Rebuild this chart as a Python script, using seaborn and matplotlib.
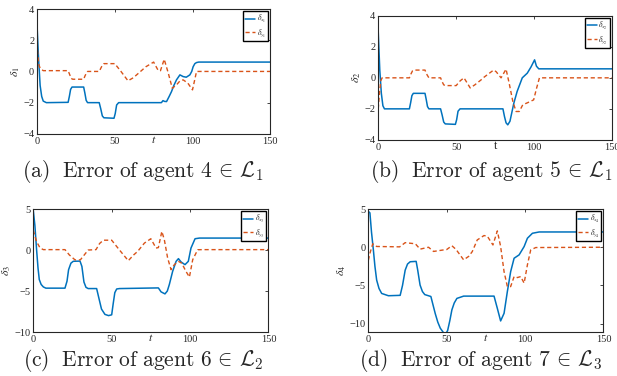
import matplotlib
matplotlib.use('Agg')
import matplotlib.pyplot as plt
import seaborn as sns

# Set Seaborn style, then the serif fonts of the paper figure
sns.set_theme(style='white')
plt.rcParams['font.family'] = ['Liberation Serif', 'DejaVu Serif']
plt.rcParams['mathtext.fontset'] = 'stix'

BLUE = '#0072BD'
ORANGE = '#D95319'

# ---- data ----
# (a) agent 4
t_a_x = [0, 1, 2, 3, 4, 6, 20, 20.8, 21.6, 22.5, 30, 30.8, 31.6, 32.5, 40, 41, 42, 43, 49.5, 50.3, 51.2,
         52.5, 80, 81, 82, 83.3, 85, 86.5, 88, 89.7, 91.9, 94, 96, 98.3, 99.5, 100.4, 101.5, 102.6, 104, 150]
d_a_x = [3.0, 0.8, -0.9, -1.6, -1.9, -2.0, -1.98, -1.6, -1.15, -1.0, -1.0, -1.4, -1.85, -2.0, -2.0, -2.4, -2.85,
         -2.97, -3.0, -2.7, -2.15, -2.0, -2.0, -1.87, -1.92, -1.93, -1.6, -1.29, -0.9, -0.54, -0.22, -0.33, -0.37,
         -0.22, 0.0, 0.3, 0.5, 0.57, 0.6, 0.6]
t_a_y = [0, 1, 2, 4, 20, 21, 22, 23, 30, 31, 32.5, 40, 41.5, 43, 50, 54, 58.5, 62, 66, 70, 75, 78, 79.4, 81.8,
         84.4, 87, 89.7, 92, 94, 97, 100, 102.6, 150]
d_a_y = [1.8, 0.5, 0.2, 0.05, 0.05, -0.2, -0.45, -0.5, -0.5, -0.25, 0.0, 0.0, 0.3, 0.5, 0.5, 0.0, -0.6, -0.4,
         -0.05, 0.3, 0.6, 0.05, 0.05, 0.78, -0.1, -1.08, -0.86, -0.6, -0.54, -0.75, -1.18, 0.0, 0.0]

# (b) agent 5
t_b_x = [0, 1, 2, 3, 4, 20, 20.8, 21.6, 22.5, 30, 30.8, 31.6, 32.5, 40, 41, 42, 43, 49.5, 50.3, 51.2, 52.5,
         80, 81, 82, 83.1, 84.5, 87, 89.1, 92.4, 95.6, 98, 100.3, 101.5, 103, 150]
d_b_x = [3.0, 0.5, -1.0, -1.8, -2.0, -2.0, -1.6, -1.15, -1.0, -1.0, -1.4, -1.85, -2.0, -2.0, -2.4, -2.85, -2.97,
         -3.0, -2.7, -2.15, -2.0, -2.0, -2.5, -2.9, -3.03, -2.8, -1.63, -0.88, 0.0, 0.3, 0.7, 1.16, 0.75, 0.58, 0.58]
t_b_y = [0, 0.8, 1.6, 2.5, 20, 21, 22, 23, 30, 31, 32.5, 40, 41, 42, 43, 50, 52.5, 55, 59, 62, 66, 68, 74,
         75.6, 78.8, 82, 84, 86.3, 88.4, 90.5, 92.7, 95.9, 99.7, 101.5, 103.4, 150]
d_b_y = [-2.0, -1.0, -0.2, 0.0, 0.0, 0.25, 0.45, 0.5, 0.5, 0.25, 0.0, 0.0, -0.25, -0.45, -0.5, -0.5, -0.2, 0.0,
         -0.65, -0.45, -0.13, 0.05, 0.5, 0.4, 0.0, 0.56, -0.35, -1.5, -2.17, -2.17, -1.74, -1.6, -1.42, -0.7, 0.0, 0.0]

# (c) agent 6
t_c_x = [0, 1, 2.1, 3, 3.8, 5, 6.4, 8, 20.2, 21.5, 22.5, 24, 25.5, 29.8, 31, 32.3, 33.6, 35, 40.4, 42, 43.5,
         45.7, 48, 50, 51, 52, 53.2, 55, 79.8, 81.5, 84, 85.5, 86.8, 88.9, 91.1, 92.6, 94.3, 96.8, 98.9, 100.6,
         103.2, 106, 150]
d_c_x = [4.8, 3.0, 0.0, -2.2, -3.6, -4.2, -4.5, -4.65, -4.65, -3.8, -2.4, -1.6, -1.37, -1.35, -2.0, -3.9, -4.55,
         -4.7, -4.7, -6.0, -7.2, -7.85, -8.0, -7.9, -6.5, -5.2, -4.75, -4.7, -4.62, -5.1, -5.35, -5.0, -4.2, -2.6,
         -1.38, -1.05, -1.46, -1.78, -1.38, 0.24, 1.38, 1.46, 1.46]
t_c_y = [0, 2, 4.3, 6.4, 20.2, 23, 26.6, 30, 32.5, 35, 40, 42.3, 44.7, 50, 55, 60.6, 64, 66.6, 70.9, 75, 78.3,
         79.8, 82, 83.6, 85.7, 87.9, 90, 92.6, 94.7, 97.4, 99.6, 101.7, 104.9, 109, 150]
d_c_y = [2.4, 1.06, 0.25, 0.05, 0.05, -0.6, -1.2, -1.2, -0.6, 0.0, 0.05, 0.8, 1.2, 1.2, 0.0, -1.3, -0.6, -0.16,
         0.85, 1.38, 0.24, 0.3, 2.27, 1.26, -0.97, -2.4, -1.78, -1.38, -1.6, -2.6, -3.3, -1.18, 0.04, 0.05, 0.05]

# (d) agent 7
t_d_x = [0, 1, 2, 3.2, 4.2, 5.3, 6.8, 8.5, 12.8, 20.3, 21.8, 23.5, 25, 26.7, 30.5, 31.5, 33, 34.5, 36, 39.9,
         41.2, 42.7, 44.3, 45.9, 48, 49.5, 50.6, 52, 53.3, 54.8, 56.5, 60.8, 80.2, 82.3, 84.4, 86.6, 88.7, 90.8,
         93, 96.2, 99.4, 101.5, 104.7, 109, 150]
d_d_x = [4.7, 4.5, 2.0, -0.35, -2.5, -4.3, -5.4, -6.05, -6.35, -6.3, -5.0, -3.0, -2.2, -1.9, -1.85, -3.0, -4.95,
         -5.8, -6.2, -6.45, -7.5, -8.7, -9.8, -10.6, -11.2, -11.3, -10.9, -9.6, -8.2, -7.3, -6.7, -6.4, -6.4, -8.0,
         -9.65, -8.65, -5.8, -3.2, -1.44, -1.0, 0.09, 1.18, 1.83, 2.0, 2.0]
t_d_y = [0, 1, 2.8, 5.3, 20, 23.5, 30, 33, 38.4, 41.6, 48, 50, 53.3, 56, 60.8, 64, 66.3, 69.5, 73.8, 75.9, 79.5,
         82.3, 84.4, 86.6, 88.7, 90.8, 93, 95.1, 97.2, 99.4, 101.5, 103.6, 106.8, 150]
d_d_y = [-1.7, -0.8, 0.45, 0.1, 0.05, 0.6, 0.45, -0.25, 0.0, -0.55, -0.35, -0.3, 0.2, -0.3, -1.65, -1.2, -0.57,
         0.96, 1.53, 1.45, 0.3, 2.14, 0.1, -3.2, -5.15, -5.15, -3.84, -3.97, -3.84, -4.7, -2.3, -0.35, -0.04, 0.0]

captions = [r'$\mathrm{(a)\ \ Error\ of\ agent\ 4}\,\in\,\mathcal{L}_1$',
            r'$\mathrm{(b)\ \ Error\ of\ agent\ 5}\,\in\,\mathcal{L}_1$',
            r'$\mathrm{(c)\ \ Error\ of\ agent\ 6}\,\in\,\mathcal{L}_2$',
            r'$\mathrm{(d)\ \ Error\ of\ agent\ 7}\,\in\,\mathcal{L}_3$']
xlabels = [r'$t$', 't', r'$t$', r'$t$']

panels = [
    (t_a_x, d_a_x, t_a_y, d_a_y, 1, (-4, 4), [-4, -2, 0, 2, 4]),
    (t_b_x, d_b_x, t_b_y, d_b_y, 2, (-4, 4), [-4, -2, 0, 2, 4]),
    (t_c_x, d_c_x, t_c_y, d_c_y, 3, (-10, 5), [-10, -5, 0, 5]),
    (t_d_x, d_d_x, t_d_y, d_d_y, 4, (-11.1, 5), [-10, -5, 0, 5]),
]

# axes rectangles [left, bottom, width, height] and caption centres
rects = [[0.060, 0.644, 0.378, 0.332],
         [0.613, 0.628, 0.379, 0.330],
         [0.054, 0.117, 0.381, 0.327],
         [0.597, 0.117, 0.381, 0.327]]
cap_pos = [(0.232, 0.545), (0.797, 0.545), (0.232, 0.041), (0.779, 0.041)]

fig = plt.figure(figsize=(6.17, 3.76), dpi=100)

for (tx, dx, ty, dy, k, ylim, yticks), rect, cap, cp, xl in zip(panels, rects, captions, cap_pos, xlabels):
    ax = fig.add_axes(rect)
    sns.lineplot(x=tx, y=dx, ax=ax, color=BLUE, linewidth=1.1, estimator=None, sort=False,
                 label=r'$\delta_{x_%d}$' % k)
    sns.lineplot(x=ty, y=dy, ax=ax, color=ORANGE, linewidth=1.0, estimator=None, sort=False,
                 linestyle=(0, (3, 2)), label=r'$\delta_{y_%d}$' % k)
    ax.set_xlim(0, 150)
    ax.set_ylim(*ylim)
    ax.set_xticks([0, 50, 100, 150])
    ax.set_yticks(yticks)
    ax.tick_params(direction='in', top=True, right=True, length=2.5, width=0.6,
                   labelsize=7.5, colors='#262626', pad=2)
    for s in ax.spines.values():
        s.set_color('#262626')
        s.set_linewidth(0.8)
    ax.set_xlabel(xl, fontsize=8.5, labelpad=-8.5)
    ax.set_ylabel(r'$\delta_%d$' % k, fontsize=8.5, labelpad=1)
    ax.legend(loc='upper right', fontsize=5.5, frameon=True, fancybox=False, edgecolor='black',
              handlelength=1.3, handletextpad=0.2, borderpad=0.25, labelspacing=0.25,
              borderaxespad=0.3, framealpha=1)
    fig.text(cp[0], cp[1], cap, fontsize=15.5, ha='center', va='center', math_fontfamily='cm')

fig.savefig('out.png', dpi=100)
